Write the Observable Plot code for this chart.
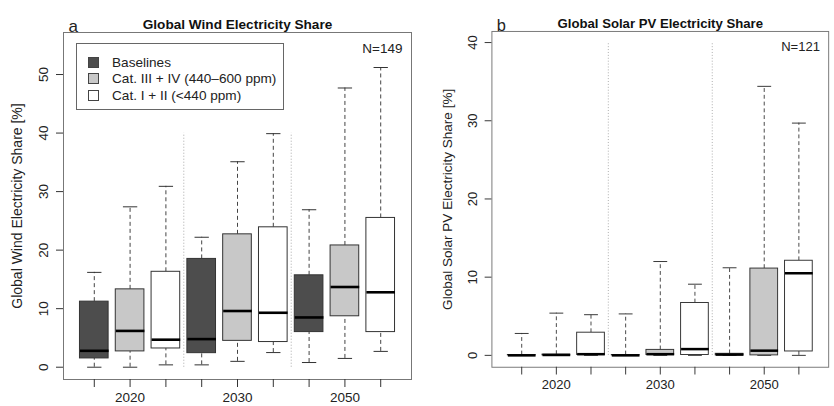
<!DOCTYPE html>
<html><head><meta charset="utf-8">
<script src="https://cdn.jsdelivr.net/npm/d3@7"></script>
<script src="https://cdn.jsdelivr.net/npm/@observablehq/plot@0.6"></script>
<style>
body{margin:0;width:834px;height:406px;overflow:hidden;position:relative;background:#fff;font-family:"Liberation Sans",Arial,sans-serif;color:#222}
.panel{position:absolute;top:0}
.legend{position:absolute;left:76px;top:43px;width:208px;height:67px;border:1px solid #666;background:#fff;box-sizing:border-box}
.legend .row{position:absolute;left:11px;height:16px;display:flex;align-items:center;font-size:13.6px;white-space:nowrap}
.legend .sw{width:9px;height:9px;border:1px solid #444;margin-right:13px}
</style></head><body>
<div id="a" class="panel" style="left:0"></div>
<div id="b" class="panel" style="left:414px"></div>
<div class="legend" id="legend"></div>
<script>
// ---- data ----
const years = ["2020", "2030", "2050"];
const groups = ["Baselines", "Cat. III + IV (440\u2013600 ppm)", "Cat. I + II (<440 ppm)"];
const groupFill = ["#4d4d4d", "#c8c8c8", "#ffffff"];
const xTickLabels = ["", "2020", "", "", "2030", "", "", "2050", ""];
const separators = [3.5, 6.5];

// wind (order: 2020 B, III+IV, I+II, 2030 ..., 2050 ...)
const windMin = [0, 0, 0.4, 0.4, 1.0, 2.5, 0.8, 1.5, 2.7];
const windQ1  = [1.5, 2.7, 3.2, 2.4, 4.5, 4.3, 6.0, 8.7, 6.0];
const windMed = [2.8, 6.2, 4.7, 4.8, 9.6, 9.3, 8.5, 13.7, 12.8];
const windQ3  = [11.2, 13.3, 16.3, 18.5, 22.7, 23.9, 15.7, 20.8, 25.5];
const windMax = [16.2, 27.4, 30.9, 22.2, 35.1, 39.9, 26.9, 47.7, 51.2];
const windTicks = [0, 10, 20, 30, 40, 50];

// solar PV
const solarMin = [0, 0, 0, 0, 0, 0, 0, 0, 0];
const solarQ1  = [0, 0, 0.05, 0, 0.05, 0.05, 0, 0, 0.5];
const solarMed = [0, 0.05, 0.15, 0, 0.15, 0.8, 0.1, 0.6, 10.5];
const solarQ3  = [0.05, 0.1, 2.9, 0.05, 0.7, 6.7, 0.2, 11.1, 12.1];
const solarMax = [2.8, 5.4, 5.2, 5.3, 12.0, 9.1, 11.2, 34.4, 29.7];
const solarTicks = [0, 10, 20, 30, 40];

function rowsOf(mn, q1, md, q3, mx) {
  const rows = [];
  years.forEach((yr, yi) => groups.forEach((g, gi) => {
    const i = yi * 3 + gi;
    rows.push({pos: i + 1, group: g, fill: groupFill[gi], min: mn[i], q1: q1[i], med: md[i], q3: q3[i], max: mx[i]});
  }));
  return rows;
}

function panel({rows, ticks, yDomain, width, marginLeft, marginRight, title, letter, n, ylabel}) {
  const positions = rows.map(d => d.pos);
  return Plot.plot({
    width, height: 406,
    marginLeft, marginRight, marginTop: 32, marginBottom: 27,
    style: {fontFamily: '"Liberation Sans", Arial, sans-serif', color: "#333", background: "transparent"},
    x: {type: "linear", domain: [0.14, 9.86], label: null},
    y: {domain: yDomain, label: null},
    marks: [
      Plot.ruleX(separators, {x: d => d, y1: 0, y2: 40, stroke: "#aaa", strokeDasharray: "1,2"}),
      Plot.ruleX(rows, {x: "pos", y1: "q3", y2: "max", stroke: "#444", strokeDasharray: "4,3"}),
      Plot.ruleX(rows, {x: "pos", y1: "min", y2: "q1", stroke: "#444", strokeDasharray: "4,3"}),
      Plot.link(rows, {x1: d => d.pos - 0.2, x2: d => d.pos + 0.2, y1: "max", y2: "max", stroke: "#333"}),
      Plot.link(rows, {x1: d => d.pos - 0.2, x2: d => d.pos + 0.2, y1: "min", y2: "min", stroke: "#333"}),
      Plot.rect(rows, {x1: d => d.pos - 0.4, x2: d => d.pos + 0.4, y1: "q1", y2: "q3", fill: "fill", stroke: "#333"}),
      Plot.link(rows, {x1: d => d.pos - 0.4, x2: d => d.pos + 0.4, y1: "med", y2: "med", stroke: "#000", strokeWidth: 2.6}),
      Plot.frame({stroke: "#777"}),
      Plot.axisX({ticks: positions, tickSize: 8, tickPadding: 5, fontSize: 13.5, tickFormat: d => xTickLabels[d - 1], stroke: "#333", color: "#222", label: null}),
      Plot.axisY({ticks, tickSize: 7, tickFormat: () => "", stroke: "#333", label: null}),
      Plot.text(ticks, {y: d => d, text: d => String(d), frameAnchor: "left", textAnchor: "middle", rotate: -90, dx: -20, fontSize: 13.5, fill: "#222"}),
      Plot.text([ylabel], {frameAnchor: "left", textAnchor: "middle", rotate: -90, dx: -46, fontSize: 14, fill: "#222"}),
      Plot.text([title], {frameAnchor: "top", textAnchor: "middle", dy: -13, fontSize: 13.6, fontWeight: "bold", fill: "#111"}),
      Plot.text([letter], {frameAnchor: "top-left", dx: 5, dy: -13, fontSize: 17, textAnchor: "start", fill: "#222"}),
      Plot.text([n], {frameAnchor: "top-right", dx: -9, dy: 11, fontSize: 13.5, textAnchor: "end", fill: "#222"})
    ]
  });
}

document.getElementById("a").append(panel({
  rows: rowsOf(windMin, windQ1, windMed, windQ3, windMax), ticks: windTicks,
  yDomain: [-2.1, 57.18], width: 414, marginLeft: 63, marginRight: 3,
  title: "Global Wind Electricity Share", letter: "a", n: "N=149",
  ylabel: "Global Wind Electricity Share [%]"
}));
document.getElementById("b").append(panel({
  rows: rowsOf(solarMin, solarQ1, solarMed, solarQ3, solarMax), ticks: solarTicks,
  yDomain: [-1.52, 41.42], width: 434, marginLeft: 80, marginRight: 6,
  title: "Global Solar PV Electricity Share", letter: "b", n: "N=121",
  ylabel: "Global Solar PV Electricity Share [%]"
}));

const leg = document.getElementById("legend");
groups.forEach((g, i) => {
  const row = document.createElement("div");
  row.className = "row";
  row.style.top = (10 + i * 16.5) + "px";
  const sw = document.createElement("span");
  sw.className = "sw";
  sw.style.background = groupFill[i];
  const t = document.createElement("span");
  t.textContent = g;
  row.append(sw, t);
  leg.append(row);
});
</script>
</body></html>
